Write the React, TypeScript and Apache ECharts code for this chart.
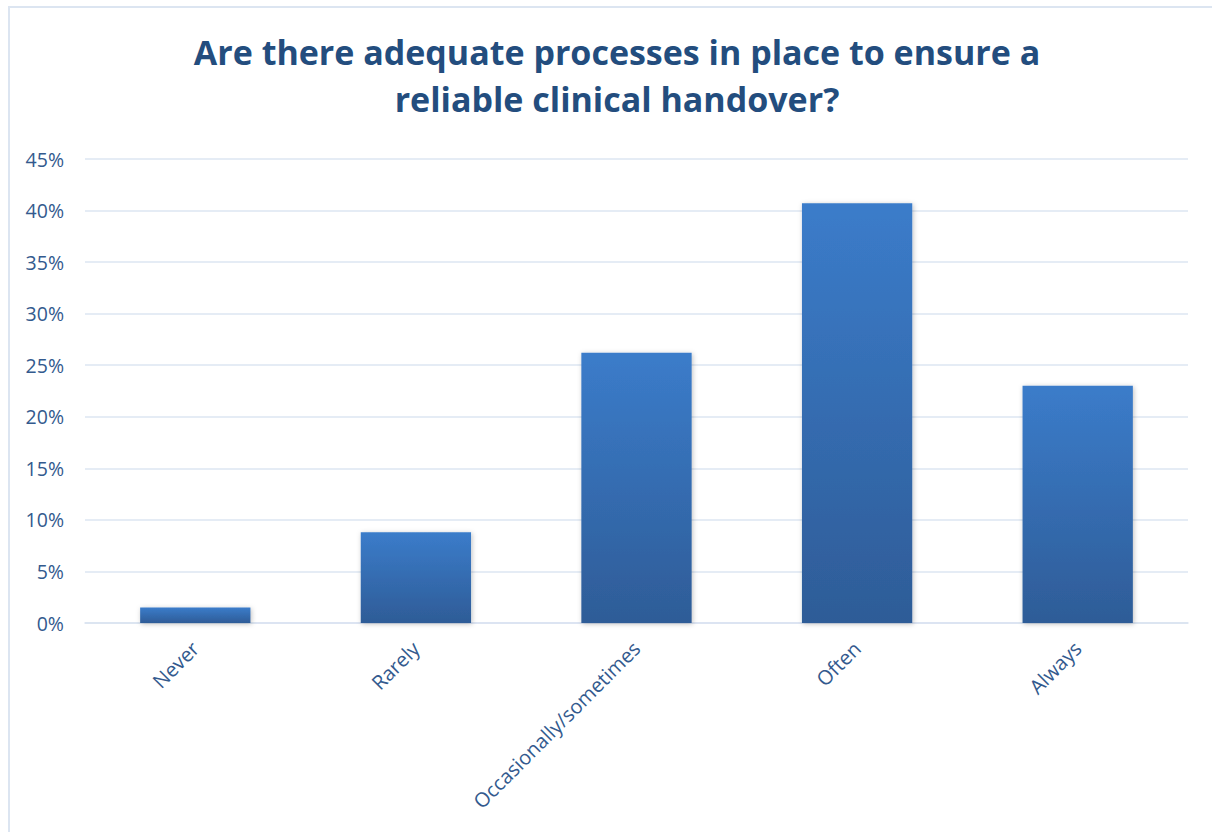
import React, { useEffect, useRef } from "react";
import * as echarts from "echarts";

const categories = ["Never", "Rarely", "Occasionally/sometimes", "Often", "Always"];
const values = [1.5, 8.8, 26.2, 40.7, 23.0];
const titleText = "Are there adequate processes in place to ensure a\nreliable clinical handover?";

export default function App() {
  const ref = useRef<HTMLDivElement>(null);
  useEffect(() => {
    const chart = echarts.init(ref.current!, undefined, { renderer: "svg" });
    chart.setOption({
      animation: false,
      backgroundColor: "#ffffff",
      title: {
        text: titleText,
        left: 612,
        textAlign: "center",
        top: 23,
        textStyle: {
          fontFamily: "Open Sans",
          fontWeight: "bold",
          fontSize: 34,
          lineHeight: 47,
          color: "#234D7E",
        },
      },
      graphic: [
        { type: "line", shape: { x1: 9, y1: 6, x2: 9, y2: 832 }, style: { stroke: "#DCE5F1", lineWidth: 2 } },
        { type: "line", shape: { x1: 8, y1: 7, x2: 1212, y2: 7 }, style: { stroke: "#DCE5F1", lineWidth: 2 } },
      ],
      grid: { left: 85, right: 24, top: 159, bottom: 209, containLabel: false },
      xAxis: {
        type: "category",
        data: categories,
        axisLine: { show: true, lineStyle: { color: "#D9E2F0", width: 1.5 } },
        axisTick: { show: false },
        axisLabel: {
          rotate: 45,
          margin: 22,
          interval: 0,
          fontFamily: "Open Sans",
          fontSize: 20,
          color: "#335A8E",
        },
      },
      yAxis: {
        type: "value",
        min: 0,
        max: 45,
        interval: 5,
        axisLine: { show: false },
        axisTick: { show: false },
        splitLine: { lineStyle: { color: "#DCE6F2", width: 1.5 } },
        axisLabel: {
          formatter: "{value}%",
          margin: 21,
          fontFamily: "Open Sans",
          fontSize: 19.5,
          color: "#335A8E",
        },
      },
      series: [
        {
          type: "bar",
          data: values,
          barWidth: "50%",
          itemStyle: {
            color: new echarts.graphic.LinearGradient(0, 0, 0, 1, [
              { offset: 0, color: "#3B7CCA" },
              { offset: 1, color: "#2E5C97" },
            ]),
            shadowBlur: 5,
            shadowColor: "rgba(0,0,0,0.25)",
            shadowOffsetX: 1,
            shadowOffsetY: 1,
          },
        },
      ],
    });
    return () => chart.dispose();
  }, []);
  return (
    <div
      ref={ref}
      style={{ position: "fixed", left: 0, top: 0, width: 1212, height: 832 }}
    />
  );
}
